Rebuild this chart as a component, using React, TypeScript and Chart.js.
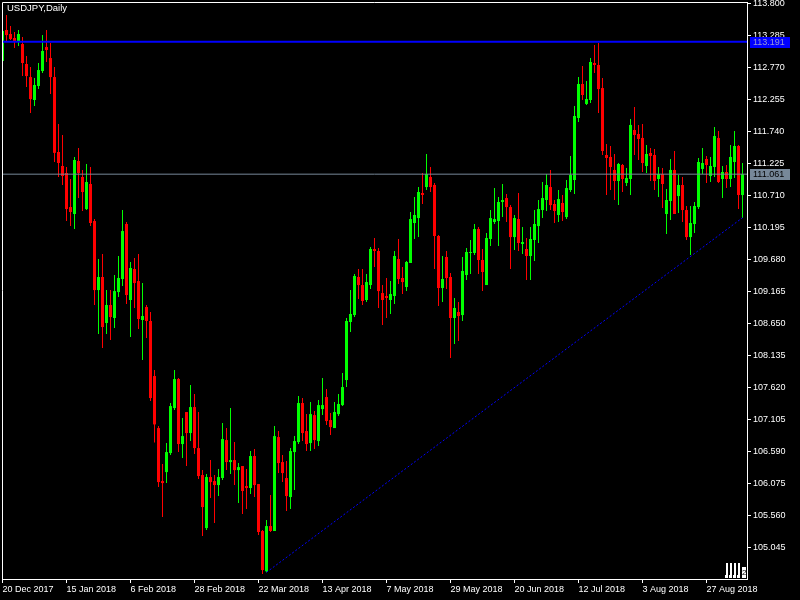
import React, { useEffect, useRef } from "react";
import { Chart, registerables } from "chart.js";

Chart.register(...registerables);

// ---- data (daily bars, 20 Dec 2017 .. 7 Sep 2018) ----
const openP = [
  112.882, 113.381, 113.317, 113.252, 113.188, 113.156, 112.834, 112.624, 112.255, 112.48,
  112.721, 113.107, 112.93, 112.624, 111.418, 111.193, 111.08, 110.532, 110.42, 111.273,
  111.016, 110.5, 110.903, 110.307, 109.196, 109.406, 108.666, 108.956, 108.746, 109.164,
  109.374, 110.259, 109.036, 109.535, 109.341, 108.714, 108.923, 108.698, 107.812, 106.975,
  106.122, 106.267, 106.573, 107.297, 107.764, 106.718, 107.233, 106.895, 107.313, 106.653,
  106.219, 105.366, 106.187, 106.122, 106.058, 106.171, 106.782, 106.428, 106.46, 106.299,
  106.364, 106.042, 106.01, 106.525, 106.074, 105.318, 104.67, 105.398, 105.318, 106.83,
  106.428, 106.171, 105.865, 106.589, 106.75, 107.378, 106.927, 106.734, 107.184, 106.766,
  107.281, 107.474, 107.104, 106.975, 107.2, 107.345, 107.748, 108.682, 108.794, 109.406,
  109.277, 109.036, 109.277, 109.857, 109.825, 109.148, 109.1, 109.036, 109.1, 109.696,
  109.39, 109.245, 109.632, 110.275, 110.355, 110.758, 110.854, 111.016, 110.887, 110.066,
  109.229, 109.728, 109.406, 108.746, 108.843, 108.794, 109.438, 109.793, 109.793, 110.178,
  109.68, 109.277, 110.018, 110.291, 110.307, 110.613, 110.677, 110.532, 110.049, 110.339,
  109.937, 109.857, 109.744, 110.002, 110.226, 110.484, 110.645, 110.854, 110.581, 110.404,
  110.597, 110.371, 110.806, 110.967, 111.965, 112.512, 112.191, 112.255, 112.85, 112.818,
  112.447, 111.37, 111.338, 111.129, 110.951, 111.209, 110.919, 110.983, 111.772, 111.708,
  111.644, 111.193, 111.402, 111.37, 110.983, 111.064, 110.42, 110.629, 111.129, 110.709,
  110.887, 110.484, 110.049, 110.259, 110.532, 111.145, 111.305, 111.032, 111.177, 111.644,
  110.983, 111.096, 110.983, 111.257, 111.515, 110.726,
];
const highP = [
  113.381, 113.622, 113.445, 113.349, 113.381, 113.268, 112.962, 112.785, 112.608, 112.85,
  113.301, 113.381, 113.172, 112.785, 111.869, 111.692, 111.177, 110.983, 111.338, 111.482,
  111.129, 111.225, 111.177, 110.339, 109.696, 109.777, 109.196, 109.196, 109.438, 109.744,
  110.484, 110.291, 109.648, 109.712, 109.777, 109.309, 108.956, 108.843, 107.909, 107.007,
  106.396, 106.734, 107.378, 107.909, 107.78, 107.136, 107.233, 107.667, 107.522, 107.233,
  106.299, 106.235, 106.46, 106.219, 106.315, 107.056, 106.975, 107.297, 106.75, 106.412,
  106.364, 106.315, 106.605, 106.637, 106.074, 105.334, 105.495, 105.897, 107.007, 106.927,
  106.541, 106.444, 106.654, 106.846, 107.49, 107.458, 107.2, 107.394, 107.249, 107.426,
  107.78, 107.603, 107.217, 107.394, 107.522, 107.86, 108.746, 109.196, 109.454, 109.535,
  109.535, 109.454, 109.889, 110.034, 109.873, 109.277, 109.39, 109.341, 109.825, 110.018,
  109.567, 109.664, 110.452, 110.693, 110.854, 111.08, 111.386, 111.177, 110.919, 110.082,
  109.744, 109.825, 109.471, 109.068, 109.004, 109.728, 109.873, 110.002, 110.259, 110.21,
  109.857, 110.114, 110.484, 110.838, 110.693, 110.903, 110.742, 110.564, 110.404, 110.758,
  110.21, 110.034, 110.21, 110.484, 110.645, 110.935, 111.064, 111.129, 110.645, 110.806,
  110.726, 110.967, 111.354, 112.158, 112.624, 112.802, 112.56, 112.93, 113.14, 113.172,
  112.608, 111.547, 111.515, 111.386, 111.241, 111.225, 111.161, 111.949, 112.142, 111.853,
  111.869, 111.531, 111.483, 111.467, 111.177, 111.161, 110.822, 111.305, 111.434, 111.048,
  111.016, 110.549, 110.549, 110.613, 111.322, 111.483, 111.354, 111.338, 111.82, 111.756,
  111.193, 111.209, 111.531, 111.756, 111.531, 111.241,
];
const lowP = [
  112.866, 113.188, 113.22, 113.091, 113.123, 112.64, 112.463, 112.046, 112.158, 112.431,
  112.689, 112.866, 112.351, 111.257, 111.016, 110.887, 110.307, 110.226, 110.178, 110.677,
  110.468, 110.484, 110.226, 108.956, 108.489, 108.263, 108.489, 108.392, 108.585, 109.084,
  109.261, 108.972, 108.44, 108.907, 108.569, 108.07, 108.424, 107.41, 106.744, 106.026,
  105.543, 106.09, 106.541, 107.265, 106.589, 106.492, 106.364, 106.766, 106.557, 106.155,
  105.237, 105.334, 105.849, 105.447, 105.881, 106.138, 106.299, 106.235, 106.058, 105.769,
  105.592, 105.672, 105.913, 105.865, 105.253, 104.626, 104.654, 105.302, 105.318, 106.251,
  106.106, 105.64, 105.672, 105.978, 106.718, 106.766, 106.605, 106.605, 106.637, 106.686,
  107.184, 107.023, 106.862, 106.975, 107.168, 107.329, 107.635, 108.521, 108.762, 109.052,
  108.956, 109.004, 109.213, 109.568, 108.907, 108.633, 108.746, 108.811, 108.972, 109.293,
  109.132, 109.18, 109.632, 110.018, 110.049, 110.581, 110.806, 110.774, 109.535, 108.94,
  109.004, 109.213, 108.102, 108.328, 108.376, 108.698, 109.358, 109.454, 109.76, 109.454,
  109.18, 109.277, 109.905, 110.259, 109.905, 110.371, 110.291, 109.535, 109.841, 109.825,
  109.777, 109.358, 109.358, 109.664, 109.953, 110.355, 110.468, 110.484, 110.275, 110.291,
  110.307, 110.339, 110.774, 110.741, 111.901, 112.255, 112.174, 112.207, 112.689, 112.046,
  111.37, 110.726, 110.806, 110.645, 110.565, 110.774, 110.87, 110.726, 111.37, 111.289,
  111.096, 111.08, 110.951, 110.806, 110.693, 110.516, 110.098, 110.323, 110.42, 110.436,
  110.291, 110.002, 109.76, 110.114, 110.5, 111.064, 110.919, 110.935, 111.016, 110.919,
  110.677, 110.838, 110.854, 111.0, 110.5, 110.355,
];
const closeP = [
  113.365, 113.3, 113.236, 113.204, 113.317, 112.85, 112.64, 112.27, 112.496, 112.737,
  113.043, 113.059, 112.624, 111.404, 111.241, 111.032, 110.5, 110.452, 111.289, 111.08,
  110.774, 110.935, 110.275, 109.196, 109.406, 108.601, 108.956, 108.762, 109.18, 109.39,
  110.146, 109.116, 109.551, 109.309, 108.73, 108.778, 108.698, 107.458, 107.034, 106.106,
  106.09, 106.589, 107.329, 107.764, 106.718, 106.846, 106.895, 107.313, 106.653, 106.203,
  105.704, 106.187, 106.106, 106.058, 106.187, 106.798, 106.428, 106.46, 106.299, 106.347,
  105.962, 106.01, 106.525, 106.058, 105.302, 104.69, 105.398, 105.318, 106.846, 106.412,
  106.251, 105.881, 106.605, 106.766, 107.378, 106.895, 106.718, 107.2, 106.782, 107.345,
  107.345, 107.088, 106.991, 107.233, 107.362, 107.635, 108.698, 108.811, 109.422, 109.277,
  109.02, 109.325, 109.857, 109.825, 109.18, 109.036, 109.068, 109.132, 109.744, 109.374,
  109.325, 109.648, 110.339, 110.404, 110.774, 110.726, 111.064, 110.854, 110.066, 109.229,
  109.374, 109.39, 108.746, 108.907, 108.778, 109.503, 109.809, 109.809, 110.178, 109.68,
  109.487, 110.034, 110.355, 110.339, 110.613, 110.645, 110.532, 110.049, 110.355, 109.953,
  109.969, 109.744, 110.018, 110.259, 110.5, 110.677, 110.887, 110.564, 110.468, 110.661,
  110.452, 110.838, 111.048, 111.997, 112.512, 112.335, 112.271, 112.866, 112.818, 112.431,
  111.434, 111.322, 111.177, 110.951, 111.225, 110.983, 110.999, 111.853, 111.692, 111.628,
  111.241, 111.386, 111.354, 110.951, 111.064, 110.903, 110.645, 111.129, 110.42, 110.887,
  110.484, 110.049, 110.275, 110.549, 111.257, 111.241, 111.209, 111.193, 111.675, 110.935,
  111.096, 110.983, 111.338, 111.515, 110.726, 111.061,
];

const tickBars = [0, 16, 32, 48, 64, 80, 96, 112, 128, 144, 160, 176];
const tickDates = [
  "20 Dec 2017", "15 Jan 2018", "6 Feb 2018", "28 Feb 2018", "22 Mar 2018", "13 Apr 2018",
  "7 May 2018", "29 May 2018", "20 Jun 2018", "12 Jul 2018", "3 Aug 2018", "27 Aug 2018",
];
const priceTicks = [
  105.045, 105.56, 106.075, 106.59, 107.105, 107.62, 108.135, 108.65, 109.165,
  109.68, 110.195, 110.71, 111.225, 111.74, 112.255, 112.77, 113.285, 113.8,
];
const resistanceLevel = 113.191;
const bidPrice = 111.061;
const trendBars = [66, 185];
const trendPrices = [104.654, 110.36];
const symbolTitle = "USDJPY,Daily";

const X_MIN = -0.125;
const X_MAX = 186.125;
const Y_MIN = 104.546;
const Y_MAX = 113.832;
const FONT = '"Liberation Sans"';
const FONT_SIZE = 9;

const overlayPlugin = {
  id: "mtOverlay",
  beforeDraw(chart: any) {
    const { ctx, width, height } = chart;
    ctx.save();
    ctx.fillStyle = "#000";
    ctx.fillRect(0, 0, width, height);
    ctx.restore();
  },
  afterDraw(chart: any) {
    const { ctx, chartArea, scales } = chart;
    const { left, top, right, bottom } = chartArea;
    ctx.save();
    ctx.strokeStyle = "#ffffff";
    ctx.lineWidth = 1;
    ctx.beginPath();
    ctx.moveTo(left + 0.5, bottom);
    ctx.lineTo(left + 0.5, top + 0.5);
    ctx.lineTo(right, top + 0.5);
    ctx.stroke();

    ctx.fillStyle = "#ffffff";
    ctx.font = `9.5px ${FONT}`;
    ctx.textBaseline = "top";
    ctx.textAlign = "left";
    ctx.fillText(symbolTitle, 7, 4);

    // small chart-shift marker in the bottom-right corner
    const mx = right - 21;
    const my = bottom - 16;
    ctx.fillStyle = "#ffffff";
    for (let k = 0; k < 4; k++) {
      ctx.fillRect(mx + k * 4, my, 2, 15);
      ctx.fillRect(mx + k * 4 - 1, my + 12, 1, 3);
    }
    ctx.fillRect(mx + 16, my + 4, 4, 11);
    ctx.fillStyle = "#000";
    ctx.font = `8px ${FONT}`;
    ctx.textBaseline = "middle";
    ctx.fillText("2", mx + 16, my + 10);

    ctx.font = `${FONT_SIZE}px ${FONT}`;
    const boxes: [number, string, string][] = [
      [resistanceLevel, "#0000ff", "#9a9ad0"],
      [bidPrice, "#778899", "#000000"],
    ];
    for (const [v, bg, fg] of boxes) {
      const py = Math.round(scales.y.getPixelForValue(v));
      ctx.fillStyle = bg;
      ctx.fillRect(750, py - 5, 40, 11);
      ctx.fillStyle = fg;
      ctx.textBaseline = "middle";
      ctx.fillText(v.toFixed(3), 753, py + 0.5);
    }
    ctx.restore();
  },
};

export default function App() {
  const ref = useRef<HTMLCanvasElement | null>(null);

  useEffect(() => {
    if (!ref.current) return;
    const idx = openP.map((_, i) => i);
    const colors = openP.map((o, i) => (closeP[i] >= o ? "#00ff00" : "#ff0000"));
    const chart = new Chart(ref.current, {
      type: "bar",
      data: {
        datasets: [
          {
            type: "line",
            data: [
              { x: X_MIN, y: resistanceLevel },
              { x: X_MAX, y: resistanceLevel },
            ],
            borderColor: "#0000ff",
            borderWidth: 2,
            pointRadius: 0,
            fill: false,
            order: 0,
          } as any,
          {
            type: "line",
            data: [
              { x: X_MIN, y: bidPrice },
              { x: X_MAX, y: bidPrice },
            ],
            borderColor: "#778899",
            borderWidth: 1,
            pointRadius: 0,
            fill: false,
            order: 0,
          } as any,
          {
            type: "line",
            data: trendBars.map((b, k) => ({ x: b, y: trendPrices[k] })),
            borderColor: "#0000ff",
            borderWidth: 1,
            borderDash: [2, 2],
            pointRadius: 0,
            fill: false,
            order: 0,
          } as any,
          {
            type: "bar",
            data: idx.map((i) => ({ x: i, y: [lowP[i], highP[i]] })),
            backgroundColor: colors,
            barThickness: 1,
            grouped: false,
            inflateAmount: 0,
            borderWidth: 0,
            order: 2,
          } as any,
          {
            type: "bar",
            data: idx.map((i) => ({ x: i, y: [openP[i], closeP[i]] })),
            backgroundColor: colors,
            barThickness: 3,
            grouped: false,
            inflateAmount: 0,
            borderWidth: 0,
            minBarLength: 1,
            order: 1,
          } as any,
        ],
      },
      options: {
        animation: false,
        responsive: false,
        maintainAspectRatio: false,
        events: [],
        layout: { padding: { left: 2, top: 2, right: 0, bottom: 0 } },
        plugins: { legend: { display: false }, tooltip: { enabled: false }, title: { display: false } },
        scales: {
          x: {
            type: "linear",
            position: "bottom",
            offset: false,
            min: X_MIN,
            max: X_MAX,
            grid: { display: true, offset: false, drawOnChartArea: false, drawTicks: true, tickLength: 4, color: "#ffffff" },
            border: { display: true, color: "#ffffff", width: 1 },
            ticks: {
              autoSkip: false,
              maxRotation: 0,
              minRotation: 0,
              align: "start",
              padding: 1,
              color: "#ffffff",
              font: { family: FONT, size: FONT_SIZE },
              callback: (v: any) => {
                const k = tickBars.indexOf(Number(v));
                return k >= 0 ? tickDates[k] : "";
              },
            },
            afterBuildTicks: (s: any) => {
              s.ticks = tickBars.map((v) => ({ value: v }));
            },
            afterFit: (s: any) => {
              s.height = 21;
              s.paddingLeft = 0;
              s.paddingRight = 0;
            },
          },
          y: {
            type: "linear",
            position: "right",
            min: Y_MIN,
            max: Y_MAX,
            grid: { display: true, drawOnChartArea: false, drawTicks: true, tickLength: 4, color: "#ffffff" },
            border: { display: true, color: "#ffffff", width: 1 },
            ticks: {
              autoSkip: false,
              padding: 2,
              color: "#ffffff",
              font: { family: FONT, size: FONT_SIZE },
              callback: (v: any) => Number(v).toFixed(3),
            },
            afterBuildTicks: (s: any) => {
              s.ticks = priceTicks.map((v) => ({ value: v }));
            },
            afterFit: (s: any) => {
              s.width = 53;
              s.paddingTop = 0;
              s.paddingBottom = 0;
            },
          },
        },
      } as any,
      plugins: [overlayPlugin],
    });
    return () => chart.destroy();
  }, []);

  return (
    <div style={{ position: "fixed", left: 0, top: 0, width: 800, height: 600, background: "#000" }}>
      <canvas ref={ref} width={800} height={600} style={{ display: "block" }} />
    </div>
  );
}
